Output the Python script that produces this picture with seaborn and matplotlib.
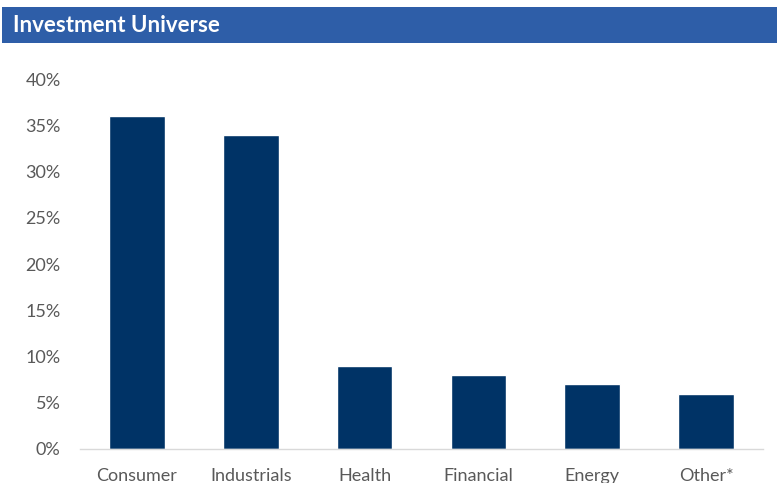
import matplotlib
matplotlib.use("Agg")
import matplotlib.pyplot as plt
import matplotlib.patches as mpatches
from matplotlib.ticker import PercentFormatter, MultipleLocator
import seaborn as sns
import pandas as pd

sectors = ['Consumer', 'Industrials', 'Health', 'Financial', 'Energy', 'Other*']
shares = [0.36, 0.34, 0.09, 0.08, 0.07, 0.06]

df = pd.DataFrame({'sector': sectors, 'share': shares})

sns.set_style('white')
plt.rcParams['font.family'] = ['Lato', 'DejaVu Sans']

fig = plt.figure(figsize=(7.79, 4.83), dpi=100)
ax = fig.add_axes([0.1027, 0.0704, 0.8768, 0.766])

sns.barplot(data=df, x='sector', y='share', color='#003366', width=0.49,
            saturation=1, ax=ax)

ax.set_ylim(0, 0.4)
ax.yaxis.set_major_locator(MultipleLocator(0.05))
ax.yaxis.set_major_formatter(PercentFormatter(1.0, decimals=0))
ax.set_xlabel('')
ax.set_ylabel('')
ax.tick_params(axis='both', length=0, labelsize=13, colors='#595959')
ax.tick_params(axis='y', pad=14)
ax.tick_params(axis='x', pad=14)
for s in ['top', 'right', 'left']:
    ax.spines[s].set_visible(False)
ax.spines['bottom'].set_color('#d9d9d9')
ax.spines['bottom'].set_linewidth(1)

# title banner
fig.patches.append(mpatches.Rectangle((0.003, 1 - 43 / 483), 0.994, 36 / 483,
                                      transform=fig.transFigure,
                                      facecolor='#2e5ea8', edgecolor='none'))
fig.text(0.017, 1 - 26 / 483, 'Investment Universe', color='white',
         fontsize=16, fontweight='bold', va='center', ha='left')

fig.savefig('out.png', dpi=100)
